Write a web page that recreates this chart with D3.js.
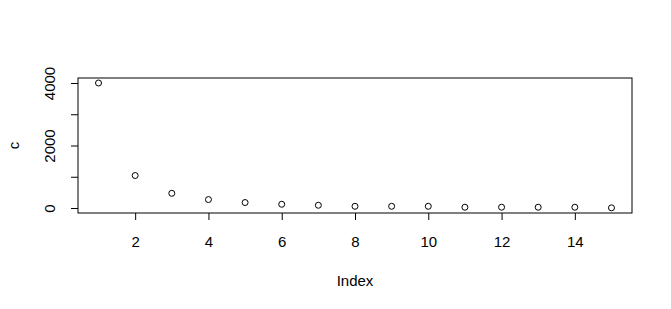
<!DOCTYPE html>
<html>
<head>
<meta charset="utf-8">
<script src="https://cdn.jsdelivr.net/npm/d3@7"></script>
<style>
  body { margin: 0; background: #fff; }
  text { font-family: "Liberation Sans", Arial, sans-serif; font-size: 15px; fill: #000; }
</style>
</head>
<body>
<div id="container"></div>
<script>
/* CONSTANTS AND GLOBALS */
const width = 671,
  height = 309,
  plot = { left: 78, right: 632, top: 78, bottom: 213 };

/* DATA */
const index = [1, 2, 3, 4, 5, 6, 7, 8, 9, 10, 11, 12, 13, 14, 15];
const values = [4000, 1040, 470, 270, 175, 120, 88, 55, 55, 55, 25, 25, 25, 25, 5];
const xTicks = [2, 4, 6, 8, 10, 12, 14];
const yTicks = [0, 1000, 2000, 3000, 4000];
const yLabels = ["0", "2000", "4000"];

/* SCALES */
// R style: data range extended by 4% on each side
const xMin = d3.min(index), xMax = d3.max(index);
const xPad = (xMax - xMin) * 0.04;
const xScale = d3.scaleLinear()
  .domain([xMin - xPad, xMax + xPad])
  .range([plot.left, plot.right]);

const yMin = 0, yMax = d3.max(values);
const yPad = (yMax - yMin) * 0.04;
const yScale = d3.scaleLinear()
  .domain([yMin - yPad, yMax + yPad])
  .range([plot.bottom, plot.top]);

/* SVG */
const svg = d3.select("#container")
  .append("svg")
  .attr("width", width)
  .attr("height", height);

// x axis
const xAxis = d3.axisBottom(xScale)
  .tickValues(xTicks)
  .tickSize(7)
  .tickPadding(16)
  .tickSizeOuter(0);
const gx = svg.append("g")
  .attr("transform", `translate(0,${plot.bottom})`)
  .call(xAxis);
gx.select(".domain").remove();
gx.selectAll("line").attr("stroke", "#000");
gx.selectAll("text").attr("font-size", 15).attr("font-family", null);

// y axis
const yAxis = d3.axisLeft(yScale)
  .tickValues(yTicks)
  .tickSize(7)
  .tickFormat(d => yLabels.includes(String(d)) ? String(d) : "")
  .tickSizeOuter(0);
const gy = svg.append("g")
  .attr("transform", `translate(${plot.left},0)`)
  .call(yAxis);
gy.select(".domain").remove();
gy.selectAll("line").attr("stroke", "#000");
gy.selectAll("text")
  .attr("font-size", 15)
  .attr("font-family", null)
  .attr("x", null)
  .attr("dy", null)
  .attr("text-anchor", "middle")
  .attr("transform", "translate(-23,0) rotate(-90)");

// plot box
svg.append("rect")
  .attr("x", plot.left)
  .attr("y", plot.top)
  .attr("width", plot.right - plot.left)
  .attr("height", plot.bottom - plot.top)
  .attr("fill", "none")
  .attr("stroke", "#000")
  .attr("stroke-width", 1);

// points
svg.selectAll("circle")
  .data(index)
  .join("circle")
  .attr("cx", d => xScale(d))
  .attr("cy", (d, i) => yScale(values[i]))
  .attr("r", 3)
  .attr("fill", "none")
  .attr("stroke", "#000")
  .attr("stroke-width", 1);

// axis labels
svg.append("text")
  .attr("x", (plot.left + plot.right) / 2)
  .attr("y", 286)
  .attr("text-anchor", "middle")
  .text("Index");

svg.append("text")
  .attr("transform", `translate(18.5,${(plot.top + plot.bottom) / 2}) rotate(-90)`)
  .attr("text-anchor", "middle")
  .text("c");
</script>
</body>
</html>
